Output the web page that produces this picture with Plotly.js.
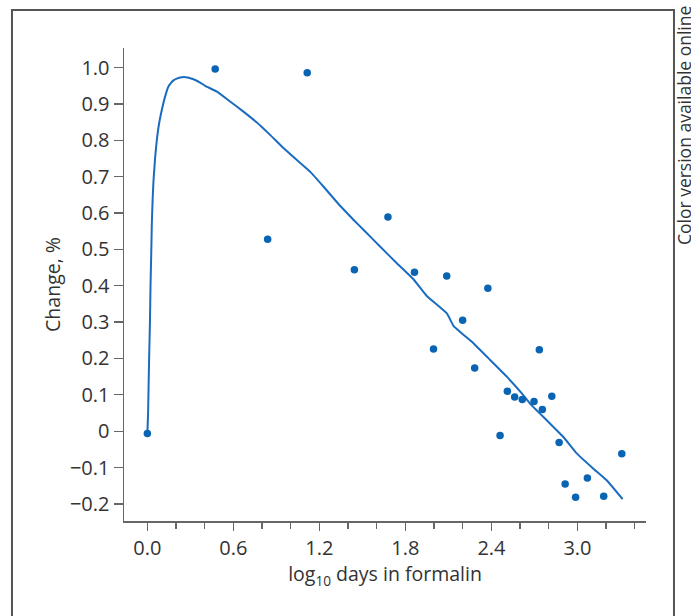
<!DOCTYPE html>
<html><head><meta charset="utf-8">
<script src="https://cdn.plot.ly/plotly-3.0.1.min.js"></script>
<style>html,body{margin:0;padding:0;background:#fff}#chart{width:691px;height:616px}</style>
</head><body><div id="chart"></div>
<script>
// Observed data points (log10 days in formalin, change %)
const pointX = [0.000, 0.473, 0.839, 1.115, 1.444, 1.678, 1.863, 1.996, 2.088, 2.199, 2.283, 2.375, 2.460, 2.511, 2.562, 2.615, 2.697, 2.734, 2.755, 2.821, 2.872, 2.914, 2.987, 3.069, 3.183, 3.309];
const pointY = [-0.006, 0.996, 0.528, 0.986, 0.444, 0.589, 0.437, 0.226, 0.427, 0.305, 0.174, 0.393, -0.012, 0.110, 0.094, 0.087, 0.082, 0.224, 0.060, 0.096, -0.031, -0.145, -0.182, -0.129, -0.179, -0.062];

// Fitted curve
const curveX = [0.000, 0.005, 0.008, 0.013, 0.018, 0.022, 0.027, 0.031, 0.037, 0.043, 0.054, 0.066, 0.082, 0.101, 0.124, 0.147, 0.165, 0.182, 0.205, 0.229, 0.255, 0.280, 0.305, 0.333, 0.368, 0.403, 0.485, 0.577, 0.670, 0.764, 0.856, 0.949, 1.043, 1.135, 1.228, 1.333, 1.439, 1.507, 1.623, 1.740, 1.856, 1.949, 2.089, 2.135, 2.274, 2.391, 2.507, 2.612, 2.669, 2.786, 2.902, 2.995, 3.111, 3.204, 3.315];
const curveY = [-0.006, 0.050, 0.113, 0.214, 0.300, 0.400, 0.489, 0.570, 0.640, 0.690, 0.752, 0.801, 0.847, 0.884, 0.921, 0.948, 0.958, 0.965, 0.970, 0.973, 0.974, 0.973, 0.970, 0.966, 0.959, 0.950, 0.934, 0.907, 0.879, 0.849, 0.815, 0.779, 0.746, 0.714, 0.673, 0.625, 0.581, 0.554, 0.508, 0.462, 0.418, 0.372, 0.324, 0.290, 0.242, 0.196, 0.150, 0.104, 0.076, 0.030, -0.016, -0.061, -0.103, -0.135, -0.187];

// Tick labels
const xTickVals = [0, 0.6, 1.2, 1.8, 2.4, 3.0];
const xTickText = ["0.0", "0.6", "1.2", "1.8", "2.4", "3.0"];
const xMinorVals = [0.2, 0.4, 0.8, 1.0, 1.4, 1.6, 2.0, 2.2, 2.6, 2.8, 3.2, 3.4];
const yTickVals = [-0.2, -0.1, 0, 0.1, 0.2, 0.3, 0.4, 0.5, 0.6, 0.7, 0.8, 0.9, 1.0];
const yTickText = ["\u22120.2", "\u22120.1", "0", "0.1", "0.2", "0.3", "0.4", "0.5", "0.6", "0.7", "0.8", "0.9", "1.0"];

const FONT = "'Open Sans', 'Noto Sans', sans-serif";
const TXT = "#333333";
const AX = "#666666";
const FS = 20;
const TFS = 19.5;

const traces = [
  {
    x: curveX, y: curveY, type: "scatter", mode: "lines",
    line: {color: "#1a6cc0", width: 2, shape: "spline", smoothing: 0.3},
    hoverinfo: "skip"
  },
  {
    x: pointX, y: pointY, type: "scatter", mode: "markers",
    marker: {color: "#0a64b4", size: 7.5, symbol: "circle"}
  }
];

const layout = {
  width: 691, height: 616,
  margin: {l: 124, r: 45, t: 48, b: 95, pad: 0},
  paper_bgcolor: "#ffffff", plot_bgcolor: "#ffffff",
  showlegend: false,
  font: {family: FONT, size: FS, color: TXT},
  xaxis: {
    range: [-0.163, 3.478],
    tickmode: "array", tickvals: xTickVals, ticktext: xTickText,
    ticks: "outside", ticklen: 8, tickwidth: 1.3, tickcolor: AX,
    minor: {tickmode: "array", tickvals: xMinorVals, ticks: "outside", ticklen: 6, tickwidth: 1.3, tickcolor: AX},
    showline: true, linecolor: AX, linewidth: 1.5,
    showgrid: false, zeroline: false,
    tickfont: {family: FONT, size: FS, color: TXT},
    title: {text: "log<sub>10</sub> days in formalin", font: {family: FONT, size: TFS, color: TXT}, standoff: 3}
  },
  yaxis: {
    range: [-0.247, 1.054],
    tickmode: "array", tickvals: yTickVals, ticktext: yTickText,
    ticks: "outside", ticklen: 9, tickwidth: 1.3, tickcolor: AX,
    showline: true, linecolor: AX, linewidth: 1.5,
    showgrid: false, zeroline: false,
    tickfont: {family: FONT, size: FS, color: TXT},
    title: {text: "Change, %", font: {family: FONT, size: TFS, color: TXT}, standoff: 4}
  },
  shapes: [
    {type: "rect", xref: "paper", yref: "paper", x0: -0.2146, x1: 1.0536, y0: -0.3, y1: 1.0803,
     line: {color: "#555555", width: 2}, fillcolor: "rgba(0,0,0,0)"}
  ],
  annotations: [
    {text: "Color version available online", xref: "paper", yref: "paper",
     x: 1.0728, y: 0.835, xanchor: "center", yanchor: "middle", textangle: -90,
     showarrow: false, font: {family: FONT, size: 17.5, color: TXT}}
  ]
};

Plotly.newPlot("chart", traces, layout, {staticPlot: true, displayModeBar: false});
</script>
</body></html>
